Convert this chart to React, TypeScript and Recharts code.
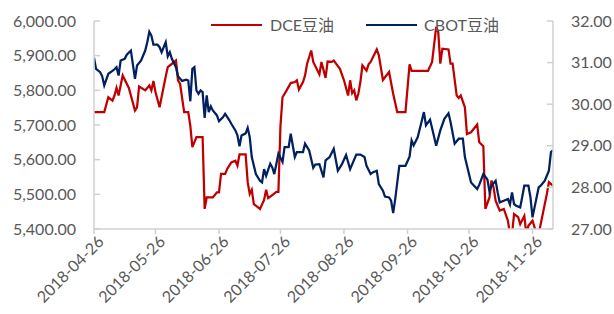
import { LineChart, Line, XAxis, YAxis } from "recharts";

document.body.style.margin = "0";

// DCE豆油 (left axis, 元/吨)
const dceDates = [
  "2018-04-26", "2018-05-01", "2018-05-03", "2018-05-05", "2018-05-06", "2018-05-07", "2018-05-08", "2018-05-10",
  "2018-05-13", "2018-05-16", "2018-05-17", "2018-05-18", "2018-05-21", "2018-05-22", "2018-05-23", "2018-05-24",
  "2018-05-25", "2018-05-26", "2018-05-28", "2018-05-31", "2018-06-01", "2018-06-05", "2018-06-06", "2018-06-07",
  "2018-06-09", "2018-06-11", "2018-06-12", "2018-06-13", "2018-06-15", "2018-06-18", "2018-06-19", "2018-06-20",
  "2018-06-23", "2018-06-25", "2018-06-26", "2018-06-27", "2018-06-29", "2018-06-30", "2018-07-02", "2018-07-04",
  "2018-07-05", "2018-07-06", "2018-07-09", "2018-07-10", "2018-07-11", "2018-07-12", "2018-07-13", "2018-07-16",
  "2018-07-18", "2018-07-19", "2018-07-20", "2018-07-22", "2018-07-24", "2018-07-25", "2018-07-26", "2018-07-27",
  "2018-07-29", "2018-07-31", "2018-08-02", "2018-08-03", "2018-08-04", "2018-08-06", "2018-08-07", "2018-08-08",
  "2018-08-10", "2018-08-11", "2018-08-14", "2018-08-15", "2018-08-17", "2018-08-18", "2018-08-20", "2018-08-21",
  "2018-08-24", "2018-08-26", "2018-08-28", "2018-08-29", "2018-08-30", "2018-08-31", "2018-09-01", "2018-09-02",
  "2018-09-03", "2018-09-04", "2018-09-06", "2018-09-07", "2018-09-08", "2018-09-11", "2018-09-12", "2018-09-14",
  "2018-09-17", "2018-09-19", "2018-09-21", "2018-09-25", "2018-09-27", "2018-09-28", "2018-10-06", "2018-10-08",
  "2018-10-10", "2018-10-11", "2018-10-12", "2018-10-13", "2018-10-16", "2018-10-17", "2018-10-18", "2018-10-20",
  "2018-10-21", "2018-10-22", "2018-10-24", "2018-10-25", "2018-10-27", "2018-10-30", "2018-10-31", "2018-11-02",
  "2018-11-03", "2018-11-05", "2018-11-06", "2018-11-07", "2018-11-08", "2018-11-10", "2018-11-12", "2018-11-14",
  "2018-11-15", "2018-11-16", "2018-11-17", "2018-11-19", "2018-11-20", "2018-11-22", "2018-11-23", "2018-11-24",
  "2018-11-26", "2018-11-28", "2018-11-29", "2018-12-01", "2018-12-03", "2018-12-04", "2018-12-06",
];
const dceValues = [
  5737, 5737, 5780, 5770, 5785, 5807, 5785, 5843,
  5807, 5742, 5751, 5811, 5800, 5807, 5814, 5800,
  5827, 5795, 5751, 5840, 5867, 5886, 5829, 5819,
  5737, 5737, 5698, 5636, 5665, 5665, 5458, 5491,
  5491, 5506, 5506, 5559, 5559, 5573, 5592, 5597,
  5583, 5615, 5615, 5535, 5501, 5513, 5472, 5458,
  5484, 5513, 5489, 5498, 5507, 5507, 5698, 5780,
  5800, 5821, 5824, 5829, 5802, 5824, 5843, 5877,
  5915, 5882, 5846, 5882, 5836, 5883, 5882, 5886,
  5862, 5829, 5785, 5829, 5792, 5800, 5771, 5790,
  5824, 5872, 5857, 5875, 5882, 5918, 5901, 5830,
  5853, 5790, 5737, 5737, 5875, 5856, 5856, 5882,
  5983, 5968, 5877, 5920, 5918, 5877, 5877, 5785,
  5778, 5785, 5751, 5674, 5679, 5701, 5650, 5639,
  5458, 5491, 5540, 5520, 5482, 5453, 5458, 5424,
  5385, 5385, 5443, 5434, 5414, 5438, 5385, 5409,
  5424, 5385, 5385, 5443, 5501, 5535, 5525,
];

// CBOT豆油 (right axis, 美分/磅)
const cbotDates = [
  "2018-04-26", "2018-04-27", "2018-04-29", "2018-04-30", "2018-05-01", "2018-05-03", "2018-05-05", "2018-05-06",
  "2018-05-07", "2018-05-08", "2018-05-09", "2018-05-11", "2018-05-12", "2018-05-14", "2018-05-16", "2018-05-17",
  "2018-05-19", "2018-05-21", "2018-05-22", "2018-05-23", "2018-05-24", "2018-05-25", "2018-05-27", "2018-05-28",
  "2018-05-29", "2018-05-31", "2018-06-01", "2018-06-02", "2018-06-03", "2018-06-05", "2018-06-06", "2018-06-08",
  "2018-06-10", "2018-06-11", "2018-06-12", "2018-06-13", "2018-06-14", "2018-06-15", "2018-06-16", "2018-06-17",
  "2018-06-18", "2018-06-19", "2018-06-20", "2018-06-21", "2018-06-22", "2018-06-23", "2018-06-25", "2018-06-26",
  "2018-06-28", "2018-06-29", "2018-07-01", "2018-07-02", "2018-07-04", "2018-07-05", "2018-07-06", "2018-07-07",
  "2018-07-09", "2018-07-10", "2018-07-11", "2018-07-12", "2018-07-14", "2018-07-16", "2018-07-17", "2018-07-18",
  "2018-07-19", "2018-07-21", "2018-07-22", "2018-07-23", "2018-07-25", "2018-07-27", "2018-07-28", "2018-07-30",
  "2018-07-31", "2018-08-02", "2018-08-03", "2018-08-06", "2018-08-07", "2018-08-09", "2018-08-11", "2018-08-12",
  "2018-08-14", "2018-08-16", "2018-08-17", "2018-08-19", "2018-08-21", "2018-08-23", "2018-08-25", "2018-08-27",
  "2018-08-29", "2018-09-01", "2018-09-03", "2018-09-05", "2018-09-06", "2018-09-08", "2018-09-09", "2018-09-11",
  "2018-09-12", "2018-09-14", "2018-09-15", "2018-09-17", "2018-09-18", "2018-09-19", "2018-09-20", "2018-09-22",
  "2018-09-25", "2018-09-27", "2018-09-28", "2018-09-29", "2018-10-01", "2018-10-03", "2018-10-04", "2018-10-05",
  "2018-10-07", "2018-10-09", "2018-10-10", "2018-10-12", "2018-10-14", "2018-10-16", "2018-10-17", "2018-10-19",
  "2018-10-21", "2018-10-23", "2018-10-24", "2018-10-26", "2018-10-27", "2018-10-30", "2018-10-31", "2018-11-02",
  "2018-11-04", "2018-11-05", "2018-11-06", "2018-11-08", "2018-11-09", "2018-11-10", "2018-11-12", "2018-11-14",
  "2018-11-15", "2018-11-16", "2018-11-17", "2018-11-18", "2018-11-20", "2018-11-22", "2018-11-24", "2018-11-25",
  "2018-11-26", "2018-11-27", "2018-11-29", "2018-11-30", "2018-12-02", "2018-12-04", "2018-12-05", "2018-12-06",
];
const cbotValues = [
  31.12, 30.85, 30.77, 30.67, 30.45, 30.73, 30.8, 30.84,
  30.89, 30.69, 31.05, 31.09, 31.19, 31.29, 30.61, 30.93,
  31.05, 31.29, 31.49, 31.74, 31.65, 31.43, 31.43, 31.37,
  31.25, 31.49, 31.15, 31.25, 31.09, 30.89, 30.67, 30.56,
  30.59, 30.57, 30.07, 30.85, 30.89, 30.33, 30.25, 30.33,
  30.29, 29.67, 30.21, 29.81, 29.95, 29.85, 29.73, 29.59,
  29.69, 29.77, 29.62, 29.53, 29.37, 29.25, 28.99, 29.25,
  29.3, 29.43, 29.21, 28.73, 28.32, 28.16, 28.12, 28.44,
  28.28, 28.57, 28.48, 28.32, 28.81, 28.61, 28.97, 28.97,
  29.29, 28.73, 28.85, 28.85, 29.05, 28.89, 28.47, 28.55,
  28.56, 28.24, 28.65, 28.73, 28.93, 28.4, 28.56, 28.78,
  28.44, 28.79, 28.79, 28.73, 28.52, 28.32, 28.36, 28.4,
  28.08, 27.92, 27.78, 27.76, 27.68, 27.38, 27.72, 28.52,
  28.52, 28.74, 29.13, 29.01, 29.21, 29.61, 29.81, 29.49,
  29.63, 29.21, 29.0, 29.37, 29.65, 29.78, 29.57, 29.05,
  29.17, 29.17, 28.73, 28.32, 28.12, 27.96, 28.06, 28.32,
  28.19, 27.9, 28.04, 28.16, 27.88, 27.64, 27.68, 27.72,
  27.59, 27.88, 27.6, 27.56, 27.52, 28.04, 28.04, 27.76,
  27.28, 27.52, 28.0, 28.04, 28.16, 28.4, 28.85, 28.89,
];

const xTickDates = [
  "2018-04-26", "2018-05-26", "2018-06-26", "2018-07-26",
  "2018-08-26", "2018-09-26", "2018-10-26", "2018-11-26",
];
const leftTicks = [5400, 5500, 5600, 5700, 5800, 5900, 6000];
const rightTicks = [27, 28, 29, 30, 31, 32];

const START = Date.UTC(2018, 3, 26);
const dayOf = (s: string) => {
  const [y, m, d] = s.split("-").map(Number);
  return (Date.UTC(y, m - 1, d) - START) / 86400000;
};
const dateOf = (t: number) => {
  const dt = new Date(START + t * 86400000);
  const mm = String(dt.getUTCMonth() + 1).padStart(2, "0");
  const dd = String(dt.getUTCDate()).padStart(2, "0");
  return `${dt.getUTCFullYear()}-${mm}-${dd}`;
};

const dceData = dceDates.map((d, i) => ({ t: dayOf(d), v: dceValues[i] }));
const cbotData = cbotDates.map((d, i) => ({ t: dayOf(d), v: cbotValues[i] }));

const FONT = "Lato, 'Noto Sans CJK SC', sans-serif";
const TEXT = "#595959";
const AXIS = "#d0d0d0";
const RED = "#c00000";
const NAVY = "#002060";

const LeftTick = ({ x, y, payload }: any) => (
  <g>
    <line x1={x + 18} x2={x + 24} y1={y} y2={y} stroke={AXIS} strokeWidth={1.5} />
    <text x={x} y={y} dy="0.35em" textAnchor="end" fill={TEXT} fontSize={16} fontFamily={FONT}>
      {Number(payload.value).toLocaleString("en-US", { minimumFractionDigits: 2, maximumFractionDigits: 2 })}
    </text>
  </g>
);

const RightTick = ({ x, y, payload }: any) => (
  <g>
    <line x1={x - 18} x2={x - 24} y1={y} y2={y} stroke={AXIS} strokeWidth={1.5} />
    <text x={x} y={y} dy="0.35em" textAnchor="start" fill={TEXT} fontSize={16} fontFamily={FONT}>
      {Number(payload.value).toFixed(2)}
    </text>
  </g>
);

const DateTick = ({ x, y, payload }: any) => (
  <text
    x={x + 4}
    y={y}
    dy="0.6em"
    textAnchor="end"
    fill={TEXT}
    fontSize={16}
    fontFamily={FONT}
    transform={`rotate(-45 ${x + 4} ${y})`}
  >
    {dateOf(payload.value)}
  </text>
);

export default function App() {
  return (
    <div style={{ position: "relative", width: 614, height: 314, background: "#fff" }}>
      <LineChart width={614} height={314} margin={{ top: 21, right: 0, bottom: 0, left: 0 }}>
        <XAxis
          type="number"
          dataKey="t"
          domain={[0, dayOf("2018-12-06")]}
          ticks={xTickDates.map(dayOf)}
          allowDataOverflow
          height={85}
          stroke={AXIS}
          strokeWidth={1.5}
          tickSize={5}
          tick={<DateTick />}
        />
        <YAxis
          yAxisId="left"
          orientation="left"
          domain={[5400, 6000]}
          ticks={leftTicks}
          allowDataOverflow
          width={94}
          stroke={AXIS}
          strokeWidth={1.5}
          tickLine={false}
          tickSize={16}
          tick={<LeftTick />}
        />
        <YAxis
          yAxisId="right"
          orientation="right"
          domain={[27, 32]}
          ticks={rightTicks}
          allowDataOverflow
          width={61}
          stroke={AXIS}
          strokeWidth={1.5}
          tickLine={false}
          tickSize={16}
          tick={<RightTick />}
        />
        <Line
          yAxisId="left"
          data={dceData}
          dataKey="v"
          name="DCE豆油"
          type="linear"
          stroke={RED}
          strokeWidth={2.25}
          dot={false}
          isAnimationActive={false}
        />
        <Line
          yAxisId="right"
          data={cbotData}
          dataKey="v"
          name="CBOT豆油"
          type="linear"
          stroke={NAVY}
          strokeWidth={2.25}
          dot={false}
          isAnimationActive={false}
        />
      </LineChart>
      <div
        style={{
          position: "absolute",
          top: 14,
          left: 211,
          display: "flex",
          alignItems: "center",
          fontFamily: FONT,
          fontSize: 16,
          color: TEXT,
          lineHeight: "22px",
        }}
      >
        <span style={{ display: "inline-block", width: 51, height: 2.5, background: RED, marginRight: 8 }} />
        <span>DCE豆油</span>
        <span style={{ display: "inline-block", width: 51, height: 2.5, background: NAVY, marginLeft: 32, marginRight: 7 }} />
        <span>CBOT豆油</span>
      </div>
    </div>
  );
}
